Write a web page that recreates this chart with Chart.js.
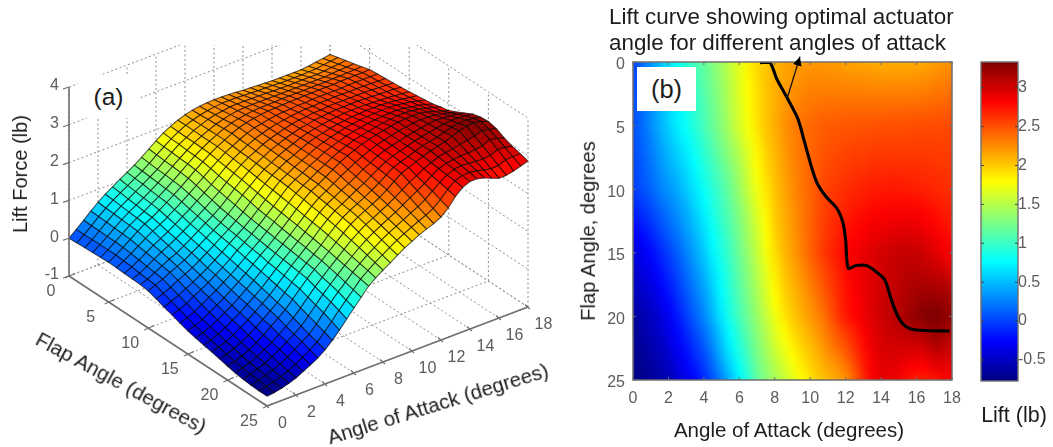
<!DOCTYPE html>
<html><head><meta charset="utf-8">
<script src="https://cdn.jsdelivr.net/npm/chart.js@4"></script>
<style>
html,body{margin:0;padding:0;background:#fff;width:1053px;height:447px;overflow:hidden}
#wrap{position:absolute;left:0;top:0;width:1053px;height:447px;filter:blur(.7px);font-family:"Liberation Sans",Arial,sans-serif;color:#1c1c1c}
canvas{position:absolute}
.t{position:absolute;white-space:nowrap;transform:translate(-50%,-50%);line-height:1}
.l{position:absolute;white-space:nowrap;transform:translateY(-50%);line-height:1}
.box{position:absolute;background:#fff;display:flex;align-items:center;justify-content:center}
</style></head><body><div id="wrap">
<div style="position:absolute;left:0;top:0;width:570px;height:447px"><canvas id="c3d"></canvas></div>
<div style="position:absolute;left:570px;top:0;width:400px;height:447px"><canvas id="cmap"></canvas></div>
<div style="position:absolute;left:975px;top:50px;width:78px;height:345px"><canvas id="cbar"></canvas></div>
<div class="box" style="left:78px;top:75px;width:61px;height:43px;font-size:24.5px">(a)</div>
<div class="box" style="left:637px;top:67px;width:59px;height:44px;font-size:25.5px">(b)</div>
<div class="t" style="left:20px;top:174px;font-size:20px;transform:translate(-50%,-50%) rotate(-90deg)">Lift Force (lb)</div>
<div class="t" style="left:121px;top:383px;font-size:20.5px;transform:translate(-50%,-50%) rotate(28.4deg)">Flap Angle (degrees)</div>
<div class="t" style="left:438px;top:404px;font-size:20.5px;transform:translate(-50%,-50%) rotate(-17.2deg)">Angle of Attack (degrees)</div>
<div class="l" style="left:609px;top:17px;font-size:22.4px">Lift curve showing optimal actuator</div>
<div class="l" style="left:609px;top:43px;font-size:22.4px">angle for different angles of attack</div>
<div class="t" style="left:789px;top:430px;font-size:20.5px">Angle of Attack (degrees)</div>
<div class="t" style="left:588px;top:231px;font-size:20.2px;transform:translate(-50%,-50%) rotate(-90deg)">Flap Angle, degrees</div>
<div class="t" style="left:1014px;top:416px;font-size:21.5px">Lift (lb)</div>
</div>
<script>
const aoaValues=[0,.5,1,1.5,2,2.5,3,3.5,4,4.5,5,5.5,6,6.5,7,7.5,8,8.5,9,9.5,10,10.5,11,11.5,12,12.5,13,13.5,14,14.5,15,15.5,16,16.5,17,17.5,18];
const flapValues=[0,1,2,3,4,5,6,7,8,9,10,11,12,13,14,15,16,17,18,19,20,21,22,23,24,25];
const liftRows=[
[0,.16,.33,.5,.66,.8,.92,1.05,1.16,1.28,1.41,1.56,1.7,1.84,1.94,2.03,2.1,2.15,2.18,2.2,2.21,2.21,2.2,2.19,2.17,2.16,2.15,2.14,2.13,2.13,2.13,2.13,2.13,2.15,2.18,2.21,2.24],
[.01,.16,.32,.49,.64,.78,.90,1.02,1.14,1.26,1.39,1.54,1.68,1.82,1.93,2.03,2.10,2.16,2.20,2.23,2.25,2.25,2.25,2.24,2.23,2.22,2.22,2.21,2.20,2.20,2.20,2.20,2.21,2.22,2.25,2.27,2.30],
[.02,.16,.32,.48,.63,.76,.87,1.0,1.12,1.24,1.37,1.52,1.67,1.81,1.92,2.03,2.11,2.18,2.23,2.26,2.29,2.30,2.30,2.30,2.29,2.29,2.28,2.28,2.27,2.28,2.28,2.28,2.28,2.29,2.32,2.33,2.36],
[.03,.17,.31,.46,.61,.74,.85,.97,1.09,1.22,1.36,1.51,1.65,1.79,1.92,2.02,2.11,2.19,2.25,2.30,2.33,2.34,2.35,2.35,2.35,2.35,2.35,2.35,2.35,2.35,2.35,2.35,2.35,2.37,2.38,2.39,2.41],
[.04,.17,.31,.45,.60,.72,.82,.95,1.07,1.20,1.34,1.49,1.64,1.78,1.91,2.02,2.12,2.21,2.28,2.33,2.36,2.39,2.40,2.41,2.41,2.42,2.42,2.42,2.42,2.43,2.43,2.43,2.44,2.44,2.45,2.46,2.47],
[.05,.17,.3,.44,.58,.7,.8,.92,1.05,1.18,1.32,1.47,1.62,1.76,1.9,2.02,2.12,2.22,2.3,2.36,2.4,2.43,2.45,2.46,2.47,2.48,2.48,2.49,2.49,2.5,2.5,2.5,2.51,2.51,2.52,2.52,2.53],
[.04,.15,.27,.40,.53,.65,.75,.87,1.0,1.13,1.27,1.42,1.57,1.72,1.86,2.0,2.10,2.20,2.29,2.36,2.40,2.44,2.47,2.49,2.50,2.52,2.52,2.53,2.54,2.54,2.54,2.54,2.55,2.55,2.55,2.55,2.55],
[.03,.13,.24,.36,.48,.59,.70,.82,.95,1.08,1.22,1.36,1.51,1.67,1.83,1.97,2.08,2.19,2.28,2.35,2.41,2.46,2.49,2.52,2.54,2.56,2.56,2.58,2.58,2.59,2.59,2.58,2.59,2.58,2.58,2.57,2.57],
[.02,.10,.21,.33,.44,.54,.65,.77,.90,1.03,1.16,1.31,1.46,1.63,1.80,1.95,2.07,2.17,2.27,2.35,2.41,2.47,2.52,2.55,2.57,2.60,2.60,2.62,2.63,2.63,2.63,2.63,2.63,2.62,2.61,2.60,2.59],
[.01,.08,.18,.29,.39,.48,.60,.72,.85,.98,1.11,1.25,1.42,1.60,1.77,1.92,2.05,2.16,2.26,2.34,2.42,2.48,2.54,2.57,2.61,2.63,2.65,2.67,2.67,2.68,2.68,2.67,2.66,2.65,2.64,2.63,2.61],
[-.02,.06,.15,.25,.34,.43,.55,.67,.8,.93,1.06,1.21,1.38,1.57,1.73,1.89,2.03,2.14,2.25,2.34,2.42,2.5,2.56,2.6,2.64,2.67,2.69,2.71,2.72,2.72,2.72,2.71,2.7,2.69,2.67,2.65,2.63],
[-.09,-.02,.07,.18,.27,.37,.49,.62,.75,.89,1.02,1.17,1.33,1.52,1.69,1.86,2.01,2.13,2.24,2.33,2.42,2.51,2.58,2.62,2.67,2.71,2.73,2.76,2.77,2.78,2.78,2.78,2.77,2.75,2.72,2.69,2.66],
[-.17,-.09,0,.10,.20,.31,.43,.56,.70,.85,.99,1.13,1.29,1.47,1.65,1.83,2.0,2.11,2.22,2.32,2.42,2.52,2.59,2.65,2.70,2.75,2.78,2.81,2.83,2.84,2.85,2.85,2.84,2.81,2.78,2.73,2.69],
[-.24,-.17,-.08,.03,.14,.25,.38,.51,.65,.81,.95,1.10,1.26,1.44,1.61,1.80,1.98,2.10,2.21,2.32,2.42,2.53,2.61,2.67,2.74,2.79,2.82,2.86,2.88,2.90,2.91,2.92,2.90,2.86,2.83,2.78,2.72],
[-.32,-.25,-.16,-.05,.07,.18,.32,.45,.6,.76,.91,1.06,1.23,1.41,1.58,1.77,1.95,2.08,2.19,2.31,2.42,2.53,2.62,2.70,2.77,2.82,2.86,2.90,2.94,2.96,2.98,2.99,2.97,2.94,2.89,2.84,2.78],
[-.39,-.32,-.23,-.12,0,.12,.26,.4,.55,.72,.88,1.03,1.2,1.37,1.55,1.74,1.92,2.07,2.18,2.3,2.42,2.54,2.64,2.72,2.8,2.86,2.91,2.95,2.99,3.02,3.04,3.05,3.04,3.0,2.94,2.88,2.82],
[-.44,-.37,-.29,-.18,-.06,.06,.20,.35,.50,.67,.83,1.0,1.17,1.34,1.52,1.70,1.88,2.03,2.14,2.26,2.38,2.49,2.60,2.69,2.78,2.85,2.90,2.95,3.0,3.03,3.06,3.08,3.08,3.06,3.02,2.97,2.92],
[-.49,-.43,-.34,-.24,-.12,0,.15,.29,.44,.62,.80,.97,1.14,1.31,1.48,1.67,1.85,2.0,2.11,2.22,2.33,2.44,2.56,2.66,2.77,2.84,2.90,2.95,3.0,3.04,3.07,3.11,3.13,3.12,3.10,3.07,3.03],
[-.53,-.48,-.40,-.30,-.18,-.05,.09,.24,.39,.57,.76,.94,1.11,1.28,1.45,1.64,1.81,1.96,2.07,2.18,2.29,2.40,2.52,2.64,2.75,2.83,2.89,2.95,3.01,3.05,3.09,3.13,3.17,3.19,3.18,3.17,3.14],
[-.58,-.53,-.45,-.36,-.24,-.11,.03,.18,.33,.52,.72,.91,1.08,1.24,1.41,1.60,1.77,1.92,2.04,2.14,2.24,2.35,2.47,2.61,2.74,2.81,2.88,2.95,3.02,3.06,3.10,3.16,3.22,3.25,3.27,3.24,3.2],
[-.63,-.58,-.51,-.42,-.3,-.17,-.02,.13,.28,.48,.68,.88,1.05,1.21,1.38,1.55,1.72,1.88,2.0,2.1,2.2,2.3,2.43,2.58,2.72,2.8,2.88,2.95,3.02,3.07,3.12,3.19,3.26,3.31,3.33,3.29,3.22],
[-.68,-.61,-.54,-.46,-.35,-.23,-.09,.05,.2,.39,.6,.8,.98,1.16,1.33,1.5,1.67,1.81,1.94,2.04,2.14,2.24,2.36,2.49,2.62,2.72,2.83,2.92,3.0,3.04,3.07,3.11,3.15,3.19,3.26,3.22,3.17],
[-.71,-.64,-.58,-.5,-.4,-.28,-.15,-.02,.12,.32,.53,.74,.93,1.11,1.29,1.45,1.61,1.75,1.87,1.98,2.08,2.18,2.3,2.42,2.53,2.65,2.79,2.9,2.97,3.0,3.02,3.02,3.04,3.07,3.16,3.12,3.06],
[-.73,-.67,-.61,-.54,-.45,-.34,-.22,-.08,.04,.24,.46,.67,.87,1.05,1.24,1.4,1.55,1.68,1.81,1.92,2.02,2.12,2.23,2.32,2.44,2.59,2.74,2.87,2.95,2.97,2.96,2.94,2.93,2.95,3.03,3.02,2.98],
[-.74,-.69,-.65,-.58,-.5,-.4,-.28,-.16,-.03,.16,.37,.59,.79,.99,1.2,1.35,1.49,1.62,1.74,1.86,1.96,2.06,2.15,2.23,2.34,2.5,2.7,2.85,2.92,2.93,2.9,2.85,2.81,2.82,2.9,2.91,2.92],
[-.74,-.72,-.68,-.62,-.55,-.45,-.35,-.24,-.1,.08,.28,.5,.72,.93,1.15,1.3,1.43,1.55,1.68,1.8,1.9,2.0,2.08,2.15,2.25,2.42,2.65,2.82,2.9,2.9,2.85,2.77,2.7,2.7,2.74,2.8,2.86]
];
const optimalAoA=[7.17,7.73,8.1,8.67,9.3,9.7,10.07,10.4,10.9,11.5,11.86,12,12.14,12.6,13.17,13.64,14.2,14.58,14.95,15.4,16,17.86];
const optimalFlap=[.05,.05,1.3,2.75,4.45,6.4,8.25,9.55,10.6,11.5,12.7,14,16.2,16,16,16.4,17.1,18.7,20,20.8,21.07,21.15];
const arrowTail=[8.7,2.85];
const arrowTip=[9.42,-.42];
const liftRange=[-.77,3.33];
const colorbarTicks=[-.5,0,.5,1,1.5,2,2.5,3];
const aoaTicks=[0,2,4,6,8,10,12,14,16,18];
const flapTicks=[0,5,10,15,20,25];
const liftTicks=[-1,0,1,2,3,4];

const FONT='"Liberation Sans",Arial,sans-serif', TICK='#5c5c5c', AXIS='#6f6f6f';
const cl=v=>Math.max(0,Math.min(1,v));
function jet(v){const t=(v-liftRange[0])/(liftRange[1]-liftRange[0]);
  return [cl(1.5-Math.abs(4*t-3)),cl(1.5-Math.abs(4*t-2)),cl(1.5-Math.abs(4*t-1))].map(c=>Math.round(c*255));}
// oblique view of the Matlab 3-D box
const view={ox:69,oy:276,ax:14.5,ay:-5.5,fx:7.92,fy:5.2,lz:37.8};
function proj(a,f,l){return {x:view.ox+a*view.ax+f*view.fx,y:view.oy+a*view.ay+f*view.fy-(l+1)*view.lz};}

const surfaceNodes=[];
flapValues.forEach((f,j)=>aoaValues.forEach((a,i)=>{const p=proj(a,f,liftRows[j][i]);surfaceNodes.push(p);}));

const surfacePlugin={id:'surface',beforeDatasetsDraw(ch){
  const g=ch.ctx,X=v=>ch.scales.x.getPixelForValue(v),Y=v=>ch.scales.y.getPixelForValue(v);
  const P=(a,f,l)=>{const p=proj(a,f,l);return [X(p.x),Y(p.y)];};
  const seg=(p,q)=>{g.beginPath();g.moveTo(p[0],p[1]);g.lineTo(q[0],q[1]);g.stroke();};
  const aMax=18,fMax=25,lMin=-1,lMax=4;
  g.save();
  g.beginPath();g.rect(0,45,570,402);g.clip();
  g.strokeStyle='#8e8e8e';g.lineWidth=1;g.setLineDash([2,2.5]);
  aoaTicks.forEach(a=>{seg(P(a,0,lMin),P(a,fMax,lMin));seg(P(a,0,lMin),P(a,0,lMax));});
  flapTicks.forEach(f=>{seg(P(0,f,lMin),P(aMax,f,lMin));seg(P(aMax,f,lMin),P(aMax,f,lMax));});
  liftTicks.forEach(l=>{seg(P(0,0,l),P(aMax,0,l));seg(P(aMax,0,l),P(aMax,fMax,l));});
  g.restore();
  g.save();
  g.lineWidth=1.05;g.strokeStyle='rgba(0,0,0,.66)';g.lineJoin='round';
  for(let i=aoaValues.length-2;i>=0;i--)for(let j=0;j<flapValues.length-1;j++){
    const corners=[[i,j],[i+1,j],[i+1,j+1],[i,j+1]];
    const v=corners.reduce((s,c)=>s+liftRows[c[1]][c[0]],0)/4,c=jet(v);
    g.beginPath();
    corners.forEach((q,k)=>{const p=P(aoaValues[q[0]],flapValues[q[1]],liftRows[q[1]][q[0]]);k?g.lineTo(p[0],p[1]):g.moveTo(p[0],p[1]);});
    g.closePath();g.fillStyle=`rgb(${c})`;g.fill();g.stroke();
  }
  g.restore();
},afterDatasetsDraw(ch){
  const g=ch.ctx,X=v=>ch.scales.x.getPixelForValue(v),Y=v=>ch.scales.y.getPixelForValue(v);
  const P=(a,f,l)=>{const p=proj(a,f,l);return [X(p.x),Y(p.y)];};
  const seg=(p,q)=>{g.beginPath();g.moveTo(p[0],p[1]);g.lineTo(q[0],q[1]);g.stroke();};
  g.save();g.strokeStyle=AXIS;g.lineWidth=1.6;
  seg(P(0,0,-1),P(0,0,4));seg(P(0,0,-1),P(0,25,-1));seg(P(0,25,-1),P(18,25,-1));
  g.lineWidth=1.2;
  liftTicks.forEach(l=>{const p=P(0,0,l);seg(p,[p[0]-6,p[1]+2]);});
  flapTicks.forEach(f=>{const p=P(0,f,-1);seg([p[0]-4,p[1]+2],[p[0]+6,p[1]-2.5]);});
  aoaTicks.forEach(a=>{const p=P(a,25,-1);seg([p[0]-3,p[1]-2.5],[p[0]+2,p[1]+2]);});
  g.fillStyle=TICK;g.font='16px '+FONT;g.textBaseline='middle';g.textAlign='center';
  flapTicks.forEach(f=>{const p=P(0,f,-1);g.fillText(String(f),p[0]-18,p[1]+16);});
  aoaTicks.forEach(a=>{const p=P(a,25,-1);g.fillText(String(a),p[0]+15.5,p[1]+18);});
  g.textAlign='right';
  liftTicks.forEach(l=>{const p=P(0,0,l);g.fillText(String(l),p[0]-10,p[1]-1);});
  g.restore();
}};

new Chart(document.getElementById('c3d'),{type:'scatter',plugins:[surfacePlugin],
 data:{datasets:[{label:'Lift Force (lb)',data:surfaceNodes,pointRadius:0,showLine:false}]},
 options:{responsive:true,maintainAspectRatio:false,animation:false,layout:{padding:0},
  plugins:{legend:{display:false},tooltip:{enabled:false}},
  scales:{x:{type:'linear',display:false,min:0,max:570},y:{type:'linear',display:false,min:0,max:447,reverse:true}}}});

const heatCells=[];
flapValues.forEach((f,j)=>aoaValues.forEach((a,i)=>heatCells.push({x:a,y:f,v:liftRows[j][i]})));
const off=document.createElement('canvas');off.width=aoaValues.length;off.height=flapValues.length;
const octx=off.getContext('2d'),img=octx.createImageData(off.width,off.height);
heatCells.forEach((c,k)=>{const col=jet(c.v);img.data.set([col[0],col[1],col[2],255],k*4);});
octx.putImageData(img,0,0);

const heatPlugin={id:'heat',beforeDatasetsDraw(ch){
  const g=ch.ctx,a=ch.chartArea,x=ch.scales.x,y=ch.scales.y;
  const x0=x.getPixelForValue(aoaValues[0]-.25),x1=x.getPixelForValue(aoaValues[36]+.25);
  const y0=y.getPixelForValue(flapValues[0]-.5),y1=y.getPixelForValue(flapValues[25]+.5);
  g.save();g.beginPath();g.rect(a.left,a.top,a.width,a.height);g.clip();
  g.imageSmoothingEnabled=true;g.imageSmoothingQuality='high';
  g.drawImage(off,x0,y0,x1-x0,y1-y0);g.restore();
},afterDraw(ch){
  const g=ch.ctx,a=ch.chartArea,x=ch.scales.x,y=ch.scales.y;
  g.save();g.strokeStyle=AXIS;g.lineWidth=1.5;g.strokeRect(a.left,a.top,a.width,a.height);
  g.lineWidth=1;g.beginPath();
  aoaTicks.forEach(v=>{const p=x.getPixelForValue(v);g.moveTo(p,a.bottom);g.lineTo(p,a.bottom-3);g.moveTo(p,a.top);g.lineTo(p,a.top+3);});
  flapTicks.forEach(v=>{const p=y.getPixelForValue(v);g.moveTo(a.left,p);g.lineTo(a.left+3,p);g.moveTo(a.right,p);g.lineTo(a.right-3,p);});
  g.stroke();
  const t=[x.getPixelForValue(arrowTail[0]),y.getPixelForValue(arrowTail[1])],h=[x.getPixelForValue(arrowTip[0]),y.getPixelForValue(arrowTip[1])];
  g.strokeStyle='#111';g.lineWidth=1.3;g.beginPath();g.moveTo(t[0],t[1]);g.lineTo(h[0],h[1]);g.stroke();
  const th=Math.atan2(h[1]-t[1],h[0]-t[0]);g.fillStyle='#000';g.beginPath();g.moveTo(h[0],h[1]);
  g.lineTo(h[0]-10*Math.cos(th-.45),h[1]-10*Math.sin(th-.45));g.lineTo(h[0]-10*Math.cos(th+.45),h[1]-10*Math.sin(th+.45));g.closePath();g.fill();
  g.restore();
}};
new Chart(document.getElementById('cmap'),{type:'scatter',plugins:[heatPlugin],
 data:{datasets:[
  {label:'Optimal actuator angle',data:optimalAoA.map((a,i)=>({x:a,y:optimalFlap[i]})),showLine:true,pointRadius:0,borderColor:'#000',borderWidth:3.1,tension:.25,fill:false},
  {label:'Lift (lb)',data:heatCells,pointRadius:0,showLine:false}]},
 options:{responsive:true,maintainAspectRatio:false,animation:false,layout:{padding:{top:62,right:18,left:0,bottom:0}},
  plugins:{legend:{display:false},tooltip:{enabled:false}},
  scales:{
   x:{type:'linear',min:0,max:18,grid:{display:false,drawTicks:false},border:{display:false},
      afterBuildTicks(s){s.ticks=aoaTicks.map(v=>({value:v}));},
      afterFit(s){s.height=67;},
      ticks:{color:TICK,font:{size:16,family:FONT},padding:9,maxRotation:0,autoSkip:false}},
   y:{type:'linear',min:0,max:25,reverse:true,grid:{display:false,drawTicks:false},border:{display:false},
      afterBuildTicks(s){s.ticks=flapTicks.map(v=>({value:v}));},
      afterFit(s){s.width=63;},
      ticks:{color:TICK,font:{size:16,family:FONT},padding:8,labelOffset:3,autoSkip:false}}
  }}});

const cbarTickPlugin={id:'cbt',afterDraw(ch){
  const g=ch.ctx,a=ch.chartArea,y=ch.scales.y;
  g.save();g.strokeStyle=AXIS;g.lineWidth=1.4;g.strokeRect(a.left,a.top,a.width,a.height);
  g.lineWidth=1;g.strokeStyle='#444';g.beginPath();
  colorbarTicks.forEach(v=>{const p=y.getPixelForValue(v);g.moveTo(a.left,p);g.lineTo(a.left+3,p);g.moveTo(a.right,p);g.lineTo(a.right-3,p);});
  g.stroke();g.restore();
}};
new Chart(document.getElementById('cbar'),{type:'bar',plugins:[cbarTickPlugin],
 data:{labels:['Lift (lb)'],datasets:[{label:'Lift (lb)',data:[liftRange],barPercentage:1,categoryPercentage:1,borderWidth:0,
   backgroundColor(ctx){const ch=ctx.chart,a=ch.chartArea;if(!a)return '#00f';
     const s=ch.scales.y,gr=ch.ctx.createLinearGradient(0,s.getPixelForValue(liftRange[0]),0,s.getPixelForValue(liftRange[1]));
     for(let i=0;i<=32;i++){const t=i/32;gr.addColorStop(t,`rgb(${jet(liftRange[0]+t*(liftRange[1]-liftRange[0]))})`);}
     return gr;}}]},
 options:{responsive:true,maintainAspectRatio:false,animation:false,layout:{padding:{top:12,bottom:14,left:6,right:0}},
  plugins:{legend:{display:false},tooltip:{enabled:false}},
  scales:{x:{display:false},
   y:{position:'right',min:liftRange[0],max:liftRange[1],grid:{display:false,drawTicks:false},border:{display:false},
      afterBuildTicks(s){s.ticks=colorbarTicks.map(v=>({value:v}));},
      afterFit(s){s.width=35;},
      ticks:{color:TICK,font:{size:16,family:FONT},padding:0,autoSkip:false,callback:v=>String(v)}}}}});
</script></body></html>
